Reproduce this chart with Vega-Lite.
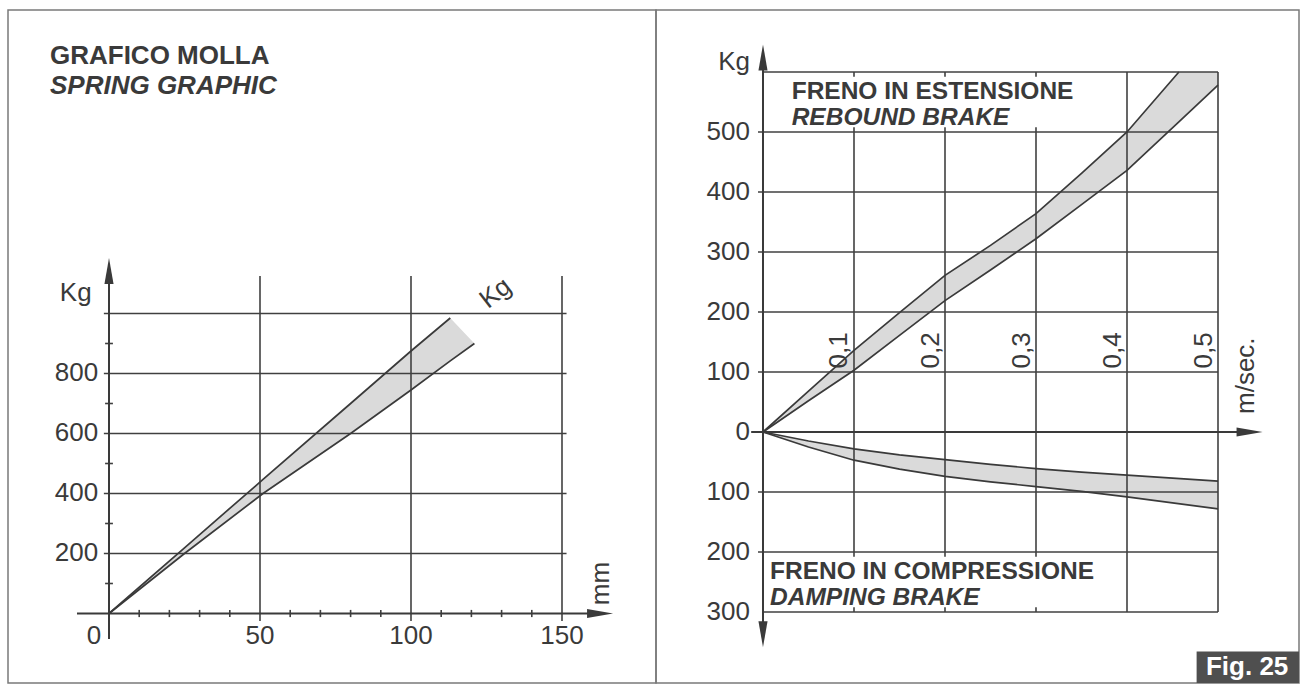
{
  "$schema": "https://vega.github.io/schema/vega-lite/v6.json",
  "padding": {"left": 7, "top": 9, "right": 3, "bottom": 2},
  "bounds": "flush",
  "spacing": 0,
  "background": "white",
  "config": {
    "view": {"stroke": "#7a7a7a", "strokeWidth": 1.5},
    "text": {"font": "Liberation Sans", "fontSize": 26, "color": "#3a3a3a"}
  },
  "datasets": {
    "spring": [
      {"x": 0, "y": 0, "y2": 0},
      {"x": 25, "y": 200, "y2": 219},
      {"x": 51, "y": 400, "y2": 447},
      {"x": 80, "y": 600, "y2": 700},
      {"x": 100, "y": 745, "y2": 875},
      {"x": 113, "y": 842, "y2": 985},
      {"x": 121, "y": 900, "y2": 900}
    ],
    "rebound": [
      {"x": 0, "y": 0, "y2": 0},
      {"x": 0.05, "y": 52, "y2": 68},
      {"x": 0.1, "y": 103, "y2": 136},
      {"x": 0.15, "y": 161, "y2": 199},
      {"x": 0.2, "y": 219, "y2": 261},
      {"x": 0.25, "y": 270, "y2": 311},
      {"x": 0.3, "y": 322, "y2": 364},
      {"x": 0.35, "y": 379, "y2": 431},
      {"x": 0.4, "y": 436, "y2": 500},
      {"x": 0.457, "y": 517, "y2": 600},
      {"x": 0.5, "y": 578, "y2": 600}
    ],
    "compression": [
      {"x": 0, "y": 0, "y2": 0},
      {"x": 0.05, "y": -25, "y2": -15},
      {"x": 0.1, "y": -47, "y2": -28},
      {"x": 0.15, "y": -62, "y2": -38},
      {"x": 0.2, "y": -74, "y2": -46},
      {"x": 0.25, "y": -83, "y2": -54},
      {"x": 0.3, "y": -91, "y2": -61},
      {"x": 0.35, "y": -99, "y2": -67},
      {"x": 0.4, "y": -108, "y2": -72},
      {"x": 0.45, "y": -118, "y2": -77},
      {"x": 0.5, "y": -128, "y2": -82}
    ]
  },
  "hconcat": [
    {
      "width": 648,
      "height": 673,
      "encoding": {
        "x": {"field": "x", "type": "quantitative", "axis": null, "scale": {"domain": [-33.444, 181.126], "nice": false, "zero": false}},
        "y": {"field": "y", "type": "quantitative", "axis": null, "scale": {"domain": [-231.67, 2011.67], "nice": false, "zero": false}}
      },
      "layer": [
        {
          "data": {"name": "spring"},
          "mark": {"type": "area", "fill": "#dadada"},
          "encoding": {"y2": {"field": "y2"}}
        },
        {
          "data": {"values": [
            {"x": -1.7, "y": 200, "x2": 151.5, "y2": 200},
            {"x": -1.7, "y": 400, "x2": 151.5, "y2": 400},
            {"x": -1.7, "y": 600, "x2": 151.5, "y2": 600},
            {"x": -1.7, "y": 800, "x2": 151.5, "y2": 800},
            {"x": -1.7, "y": 1000, "x2": 151.5, "y2": 1000},
            {"x": 50, "y": -25, "x2": 50, "y2": 1125},
            {"x": 100, "y": -25, "x2": 100, "y2": 1125},
            {"x": 150, "y": -25, "x2": 150, "y2": 1125},
            {"x": 10, "y": -12, "x2": 10, "y2": 12},
            {"x": 20, "y": -12, "x2": 20, "y2": 12},
            {"x": 30, "y": -12, "x2": 30, "y2": 12},
            {"x": 40, "y": -12, "x2": 40, "y2": 12},
            {"x": 60, "y": -12, "x2": 60, "y2": 12},
            {"x": 70, "y": -12, "x2": 70, "y2": 12},
            {"x": 80, "y": -12, "x2": 80, "y2": 12},
            {"x": 90, "y": -12, "x2": 90, "y2": 12},
            {"x": 110, "y": -12, "x2": 110, "y2": 12},
            {"x": 120, "y": -12, "x2": 120, "y2": 12},
            {"x": 130, "y": -12, "x2": 130, "y2": 12},
            {"x": 140, "y": -12, "x2": 140, "y2": 12},
            {"x": -1.3, "y": 100, "x2": 1.3, "y2": 100},
            {"x": -1.3, "y": 300, "x2": 1.3, "y2": 300},
            {"x": -1.3, "y": 500, "x2": 1.3, "y2": 500},
            {"x": -1.3, "y": 700, "x2": 1.3, "y2": 700},
            {"x": -1.3, "y": 900, "x2": 1.3, "y2": 900}
          ]},
          "mark": {"type": "rule", "color": "#404040", "strokeWidth": 1.6},
          "encoding": {"x2": {"field": "x2"}, "y2": {"field": "y2"}}
        },
        {
          "data": {"values": [
            {"x": 0, "y": -85, "x2": 0, "y2": 1110},
            {"x": -10.6, "y": 0, "x2": 160, "y2": 0}
          ]},
          "mark": {"type": "rule", "color": "#3a3a3a", "strokeWidth": 2},
          "encoding": {"x2": {"field": "x2"}, "y2": {"field": "y2"}}
        },
        {
          "data": {"name": "spring"},
          "mark": {"type": "line", "color": "#3a3a3a", "strokeWidth": 1.7}
        },
        {
          "data": {"name": "spring"},
          "transform": [{"filter": "datum.x <= 113"}],
          "mark": {"type": "line", "color": "#3a3a3a", "strokeWidth": 1.7},
          "encoding": {"y": {"field": "y2", "type": "quantitative", "axis": null, "scale": {"domain": [-231.67, 2011.67], "nice": false, "zero": false}}}
        },
        {
          "data": {"values": [{"x": 0, "y": 1142}]},
          "mark": {"type": "point", "shape": "M0,-1L0.35,1L-0.35,1Z", "filled": true, "size": 676, "color": "#3a3a3a", "opacity": 1}
        },
        {
          "data": {"values": [{"x": 162.6, "y": 0}]},
          "mark": {"type": "point", "shape": "M1,0L-1,-0.35L-1,0.35Z", "filled": true, "size": 676, "color": "#3a3a3a", "opacity": 1}
        },
        {
          "data": {"values": [
            {"x": -3.6, "y": 200, "t": "200"},
            {"x": -3.6, "y": 400, "t": "400"},
            {"x": -3.6, "y": 600, "t": "600"},
            {"x": -3.6, "y": 800, "t": "800"}
          ]},
          "mark": {"type": "text", "align": "right", "baseline": "middle"},
          "encoding": {"text": {"field": "t"}}
        },
        {
          "data": {"values": [
            {"x": -11, "y": 1070, "t": "Kg"},
            {"x": -5, "y": -75, "t": "0"},
            {"x": 50, "y": -75, "t": "50"},
            {"x": 100, "y": -75, "t": "100"},
            {"x": 150, "y": -75, "t": "150"}
          ]},
          "mark": {"type": "text", "align": "center", "baseline": "middle"},
          "encoding": {"text": {"field": "t"}}
        },
        {
          "data": {"values": [{"x": 128, "y": 1068, "t": "Kg"}]},
          "mark": {"type": "text", "align": "center", "baseline": "middle", "angle": -38},
          "encoding": {"text": {"field": "t"}}
        },
        {
          "data": {"values": [{"x": 163, "y": 100, "t": "mm"}]},
          "mark": {"type": "text", "align": "center", "baseline": "middle", "angle": -90},
          "encoding": {"text": {"field": "t"}}
        },
        {
          "data": {"values": [{"x": -19.54, "y": 1830.7, "t": "GRAFICO MOLLA"}]},
          "mark": {"type": "text", "align": "left", "baseline": "alphabetic", "fontWeight": "bold"},
          "encoding": {"text": {"field": "t"}}
        },
        {
          "data": {"values": [{"x": -19.54, "y": 1731.7, "t": "SPRING GRAPHIC"}]},
          "mark": {"type": "text", "align": "left", "baseline": "alphabetic", "fontWeight": "bold", "fontStyle": "italic"},
          "encoding": {"text": {"field": "t"}}
        }
      ]
    },
    {
      "width": 643,
      "height": 673,
      "encoding": {
        "x": {"field": "x", "type": "quantitative", "axis": null, "scale": {"domain": [-0.117582, 0.589011], "nice": false, "zero": false}},
        "y": {"field": "y", "type": "quantitative", "axis": null, "scale": {"domain": [-418.33, 703.33], "nice": false, "zero": false}}
      },
      "layer": [
        {
          "data": {"name": "rebound"},
          "mark": {"type": "area", "fill": "#dadada"},
          "encoding": {"y2": {"field": "y2"}}
        },
        {
          "data": {"name": "compression"},
          "mark": {"type": "area", "fill": "#dadada"},
          "encoding": {"y2": {"field": "y2"}}
        },
        {
          "data": {"values": [
            {"x": 0, "y": 600, "x2": 0.5, "y2": 600},
            {"x": -0.0055, "y": 500, "x2": 0.5, "y2": 500},
            {"x": -0.0055, "y": 400, "x2": 0.5, "y2": 400},
            {"x": -0.0055, "y": 300, "x2": 0.5, "y2": 300},
            {"x": -0.0055, "y": 200, "x2": 0.5, "y2": 200},
            {"x": -0.0055, "y": 100, "x2": 0.5, "y2": 100},
            {"x": -0.0055, "y": -100, "x2": 0.5, "y2": -100},
            {"x": -0.0055, "y": -200, "x2": 0.5, "y2": -200},
            {"x": 0, "y": -300, "x2": 0.5, "y2": -300},
            {"x": 0.1, "y": -208, "x2": 0.1, "y2": 508},
            {"x": 0.2, "y": -208, "x2": 0.2, "y2": 508},
            {"x": 0.3, "y": -208, "x2": 0.3, "y2": 508},
            {"x": 0.4, "y": -300, "x2": 0.4, "y2": 600},
            {"x": 0.5, "y": -300, "x2": 0.5, "y2": 600},
            {"x": 0.1, "y": 592, "x2": 0.1, "y2": 600},
            {"x": 0.2, "y": 592, "x2": 0.2, "y2": 600},
            {"x": 0.3, "y": 592, "x2": 0.3, "y2": 600},
            {"x": 0.1, "y": -300, "x2": 0.1, "y2": -292},
            {"x": 0.2, "y": -300, "x2": 0.2, "y2": -292},
            {"x": 0.3, "y": -300, "x2": 0.3, "y2": -292}
          ]},
          "mark": {"type": "rule", "color": "#404040", "strokeWidth": 1.6},
          "encoding": {"x2": {"field": "x2"}, "y2": {"field": "y2"}}
        },
        {
          "data": {"values": [
            {"x": 0, "y": -335, "x2": 0, "y2": 625},
            {"x": -0.013, "y": 0, "x2": 0.535, "y2": 0}
          ]},
          "mark": {"type": "rule", "color": "#3a3a3a", "strokeWidth": 2},
          "encoding": {"x2": {"field": "x2"}, "y2": {"field": "y2"}}
        },
        {
          "data": {"name": "rebound"},
          "mark": {"type": "line", "color": "#3a3a3a", "strokeWidth": 1.7}
        },
        {
          "data": {"name": "rebound"},
          "transform": [{"filter": "datum.x <= 0.457"}],
          "mark": {"type": "line", "color": "#3a3a3a", "strokeWidth": 1.7},
          "encoding": {"y": {"field": "y2", "type": "quantitative", "axis": null, "scale": {"domain": [-418.33, 703.33], "nice": false, "zero": false}}}
        },
        {
          "data": {"name": "compression"},
          "mark": {"type": "line", "color": "#3a3a3a", "strokeWidth": 1.7}
        },
        {
          "data": {"name": "compression"},
          "mark": {"type": "line", "color": "#3a3a3a", "strokeWidth": 1.7},
          "encoding": {"y": {"field": "y2", "type": "quantitative", "axis": null, "scale": {"domain": [-418.33, 703.33], "nice": false, "zero": false}}}
        },
        {
          "data": {"values": [{"x": 0, "y": 624}]},
          "mark": {"type": "point", "shape": "M0,-1L0.35,1L-0.35,1Z", "filled": true, "size": 676, "color": "#3a3a3a", "opacity": 1}
        },
        {
          "data": {"values": [{"x": 0, "y": -337}]},
          "mark": {"type": "point", "shape": "M0,1L0.35,-1L-0.35,-1Z", "filled": true, "size": 676, "color": "#3a3a3a", "opacity": 1}
        },
        {
          "data": {"values": [{"x": 0.5347, "y": 0}]},
          "mark": {"type": "point", "shape": "M1,0L-1,-0.35L-1,0.35Z", "filled": true, "size": 676, "color": "#3a3a3a", "opacity": 1}
        },
        {
          "data": {"values": [
            {"x": -0.0143, "y": 617, "t": "Kg"},
            {"x": -0.0143, "y": 500, "t": "500"},
            {"x": -0.0143, "y": 400, "t": "400"},
            {"x": -0.0143, "y": 300, "t": "300"},
            {"x": -0.0143, "y": 200, "t": "200"},
            {"x": -0.0143, "y": 100, "t": "100"},
            {"x": -0.0143, "y": 0, "t": "0"},
            {"x": -0.0143, "y": -100, "t": "100"},
            {"x": -0.0143, "y": -200, "t": "200"},
            {"x": -0.0143, "y": -300, "t": "300"}
          ]},
          "mark": {"type": "text", "align": "right", "baseline": "middle"},
          "encoding": {"text": {"field": "t"}}
        },
        {
          "data": {"values": [
            {"x": 0.084, "y": 106, "t": "0,1"},
            {"x": 0.185, "y": 106, "t": "0,2"},
            {"x": 0.285, "y": 106, "t": "0,3"},
            {"x": 0.385, "y": 106, "t": "0,4"},
            {"x": 0.485, "y": 106, "t": "0,5"},
            {"x": 0.531, "y": 30, "t": "m/sec."}
          ]},
          "mark": {"type": "text", "align": "left", "baseline": "middle", "angle": -90},
          "encoding": {"text": {"field": "t"}}
        },
        {
          "data": {"values": [
            {"x": 0.0315, "y": 555.5, "t": "FRENO IN ESTENSIONE"},
            {"x": 0.0077, "y": -244.5, "t": "FRENO IN COMPRESSIONE"}
          ]},
          "mark": {"type": "text", "align": "left", "baseline": "alphabetic", "fontWeight": "bold", "fontSize": 24.5},
          "encoding": {"text": {"field": "t"}}
        },
        {
          "data": {"values": [
            {"x": 0.0315, "y": 512.3, "t": "REBOUND BRAKE"},
            {"x": 0.0077, "y": -288.8, "t": "DAMPING BRAKE"}
          ]},
          "mark": {"type": "text", "align": "left", "baseline": "alphabetic", "fontWeight": "bold", "fontStyle": "italic", "fontSize": 24.5},
          "encoding": {"text": {"field": "t"}}
        },
        {
          "data": {"values": [{"x": 0.4765, "y": -366, "x2": 0.589, "y2": -418.3}]},
          "mark": {"type": "rect", "color": "#4f4f4f", "opacity": 1},
          "encoding": {"x2": {"field": "x2"}, "y2": {"field": "y2"}}
        },
        {
          "data": {"values": [{"x": 0.532, "y": -405, "t": "Fig. 25"}]},
          "mark": {"type": "text", "align": "center", "baseline": "alphabetic", "fontWeight": "bold", "color": "white"},
          "encoding": {"text": {"field": "t"}}
        }
      ]
    }
  ]
}
